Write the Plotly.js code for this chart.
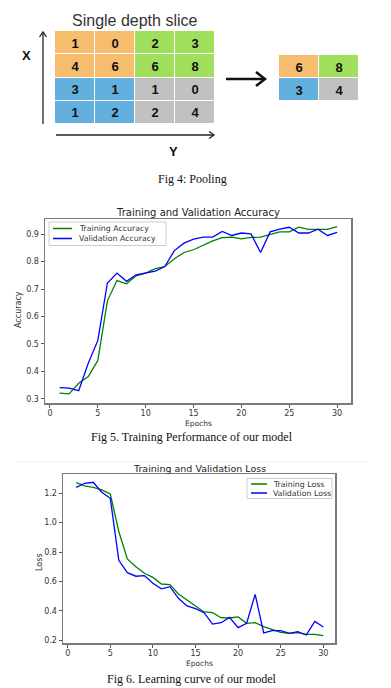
<!DOCTYPE html>
<html>
<head>
<meta charset="utf-8">
<script src="https://cdn.plot.ly/plotly-3.0.1.min.js"></script>
<style>html,body{margin:0;padding:0;background:#fff;}#chart{width:391px;height:688px;}</style>
</head>
<body>
<div id="chart"></div>
<script>
// ---- Data ----
// Pooling diagram: input slice values and their pooling-window group (0..3)
const sliceValues = [[1,0,2,3],[4,6,6,8],[3,1,1,0],[1,2,2,4]];
const sliceGroups = [[0,0,1,1],[0,0,1,1],[2,2,3,3],[2,2,3,3]];
const pooledValues = [[6,8],[3,4]];
const pooledGroups = [[0,1],[2,3]];
const gridCols = ['c1','c2','c3','c4'];
const gridRows = ['r1','r2','r3','r4'];
const poolCols = ['p1','p2'];
const poolRows = ['q1','q2'];

const epochs = [1,2,3,4,5,6,7,8,9,10,11,12,13,14,15,16,17,18,19,20,21,22,23,24,25,26,27,28,29,30];
const trainAcc = [0.321,0.318,0.357,0.381,0.44,0.657,0.731,0.719,0.748,0.758,0.774,0.782,0.81,0.833,0.843,0.859,0.875,0.887,0.889,0.883,0.888,0.889,0.898,0.908,0.908,0.925,0.917,0.917,0.917,0.927];
const valAcc = [0.341,0.339,0.330,0.43,0.513,0.722,0.758,0.728,0.752,0.759,0.765,0.782,0.84,0.867,0.882,0.889,0.889,0.91,0.895,0.904,0.901,0.833,0.908,0.918,0.925,0.904,0.904,0.918,0.895,0.906];
const trainLoss = [1.272,1.25,1.24,1.223,1.195,0.94,0.753,0.70,0.656,0.628,0.583,0.579,0.515,0.474,0.434,0.393,0.388,0.354,0.352,0.359,0.316,0.32,0.293,0.275,0.254,0.248,0.252,0.241,0.241,0.232];
const valLoss = [1.24,1.268,1.275,1.207,1.166,0.744,0.66,0.636,0.64,0.588,0.55,0.565,0.486,0.434,0.415,0.388,0.311,0.32,0.356,0.286,0.316,0.513,0.25,0.266,0.266,0.248,0.259,0.236,0.329,0.291];
const accTicks = [0.3,0.4,0.5,0.6,0.7,0.8,0.9];
const lossTicks = [0.2,0.4,0.6,0.8,1.0,1.2];
const epochTicks = [0,5,10,15,20,25,30];
const accNames = ['Training Accuracy','Validation Accuracy'];
const lossNames = ['Training Loss','Validation Loss'];
const seriesColors = ['green','blue'];

// ---- Helpers (page pixel -> paper) ----
const W = 391, H = 688;
const px = x => x / W;
const py = y => 1 - y / H;

const poolColors = [[0,'#F6BD6E'],[1/3,'#A0DF5C'],[2/3,'#63AFDD'],[1,'#C1C1C1']];
const sans = 'DejaVu Sans';
const tickFont = {family:sans, size:8, color:'#333'};
const serif = {family:'Liberation Serif', size:12, color:'#111'};

const traces = [
  {type:'heatmap', x:gridCols, y:gridRows, z:sliceGroups, text:sliceValues,
   texttemplate:'<b>%{text}</b>', textfont:{family:'Liberation Sans', size:13, color:'#111'},
   colorscale:poolColors, zmin:0, zmax:3, showscale:false, xgap:1, ygap:1,
   hoverinfo:'skip', xaxis:'x', yaxis:'y'},
  {type:'heatmap', x:poolCols, y:poolRows, z:pooledGroups, text:pooledValues,
   texttemplate:'<b>%{text}</b>', textfont:{family:'Liberation Sans', size:13, color:'#111'},
   colorscale:poolColors, zmin:0, zmax:3, showscale:false, xgap:1, ygap:1,
   hoverinfo:'skip', xaxis:'x2', yaxis:'y2'},
  {type:'scatter', mode:'lines', x:epochs, y:trainAcc, name:accNames[0],
   line:{color:seriesColors[0], width:1.3}, xaxis:'x3', yaxis:'y3'},
  {type:'scatter', mode:'lines', x:epochs, y:valAcc, name:accNames[1],
   line:{color:seriesColors[1], width:1.3}, xaxis:'x3', yaxis:'y3'},
  {type:'scatter', mode:'lines', x:epochs, y:trainLoss, name:lossNames[0],
   line:{color:seriesColors[0], width:1.3}, xaxis:'x4', yaxis:'y4'},
  {type:'scatter', mode:'lines', x:epochs, y:valLoss, name:lossNames[1],
   line:{color:seriesColors[1], width:1.3}, xaxis:'x4', yaxis:'y4'}
];

const frameAxis = {showline:true, mirror:true, linecolor:'#7a7a7a', linewidth:1.5,
  showgrid:false, zeroline:false, ticks:'outside', ticklen:3, tickcolor:'#555', tickwidth:1,
  tickfont:tickFont, fixedrange:true};

const ann = (text, x, y, font, extra) => Object.assign({text, x:px(x), y:py(y), xref:'paper', yref:'paper',
  showarrow:false, xanchor:'center', yanchor:'middle', font}, extra || {});

// Legend boxes (drawn as decoration, labels come from the series names)
function legendBox(x0, y0, x1, y1, lineX0, lineX1, rowsY, textX, names) {
  const shapes = [{type:'rect', xref:'paper', yref:'paper', x0:px(x0), y0:py(y1), x1:px(x1), y1:py(y0),
    fillcolor:'rgba(255,255,255,0.9)', line:{color:'#cccccc', width:1}}];
  const anns = [];
  names.forEach((n, i) => {
    shapes.push({type:'line', xref:'paper', yref:'paper', x0:px(lineX0), x1:px(lineX1), y0:py(rowsY[i]), y1:py(rowsY[i]),
      line:{color:seriesColors[i], width:1.5}});
    anns.push(ann(n, textX, rowsY[i], {family:sans, size:7.8, color:'#333'}, {xanchor:'left'}));
  });
  return {shapes, anns};
}
const leg1 = legendBox(49, 222, 166, 245.5, 53, 72, [228.5, 238.5], 77, accNames);
const leg2 = legendBox(247, 478.5, 332, 498.5, 251, 267, [484, 493], 271, lossNames);

const layout = {
  width:W, height:H, margin:{l:0,r:0,t:0,b:0},
  paper_bgcolor:'#fff', plot_bgcolor:'#fff', showlegend:false,
  xaxis:{domain:[px(55),px(215)], visible:false, fixedrange:true},
  yaxis:{domain:[py(124),py(31)], visible:false, autorange:'reversed', fixedrange:true},
  xaxis2:{domain:[px(279),px(359)], visible:false, anchor:'y2'},
  yaxis2:{domain:[py(101),py(55)], visible:false, autorange:'reversed', anchor:'x2'},
  xaxis3:Object.assign({}, frameAxis, {domain:[px(45),px(351)], anchor:'y3',
    range:[-0.52,31.45], tickvals:epochTicks, ticklabelstandoff:-1}),
  yaxis3:Object.assign({}, frameAxis, {domain:[py(403),py(219)], anchor:'x3',
    range:[0.285,0.955], tickvals:accTicks, tickformat:'.1f'}),
  xaxis4:Object.assign({}, frameAxis, {domain:[px(63),px(335)], anchor:'y4',
    range:[-0.55,31.37], tickvals:epochTicks, ticklabelstandoff:-1}),
  yaxis4:Object.assign({}, frameAxis, {domain:[py(643),py(474)], anchor:'x4',
    range:[0.182,1.331], tickvals:lossTicks, tickformat:'.1f'}),
  shapes:[
    // vertical X axis arrow
    {type:'line', xref:'paper', yref:'paper', x0:px(43), y0:py(124), x1:px(43), y1:py(32), line:{color:'#222', width:1.3}},
    {type:'path', xref:'paper', yref:'paper', path:`M ${px(39.5)} ${py(37)} L ${px(43)} ${py(32)} L ${px(46.5)} ${py(37)}`, line:{color:'#222', width:1.3}},
    // horizontal Y axis arrow
    {type:'line', xref:'paper', yref:'paper', x0:px(56), y0:py(135), x1:px(214), y1:py(135), line:{color:'#222', width:1.3}},
    {type:'path', xref:'paper', yref:'paper', path:`M ${px(209)} ${py(131.5)} L ${px(214)} ${py(135)} L ${px(209)} ${py(138.5)}`, line:{color:'#222', width:1.3}},
    // pooling arrow
    {type:'line', xref:'paper', yref:'paper', x0:px(226), y0:py(79), x1:px(264), y1:py(79), line:{color:'#111', width:2.5}},
    {type:'path', xref:'paper', yref:'paper', path:`M ${px(256)} ${py(72)} L ${px(265)} ${py(79)} L ${px(256)} ${py(86)}`, line:{color:'#111', width:2.5}},
    // faint separator
    {type:'line', xref:'paper', yref:'paper', x0:px(16), y0:py(462), x1:px(367), y1:py(462), line:{color:'#eeeeee', width:1}}
  ].concat(leg1.shapes, leg2.shapes),
  annotations:[
    ann('Single depth slice', 135, 20, {family:'Liberation Sans', size:16, color:'#333'}),
    ann('<b>X</b>', 27, 55, {family:'Liberation Sans', size:13, color:'#111'}),
    ann('<b>Y</b>', 173, 151, {family:'Liberation Sans', size:13, color:'#111'}),
    ann('Fig 4: Pooling', 192, 179, serif),

    ann('Training and Validation Accuracy', 198, 212, {family:sans, size:10, color:'#222'}),
    ann('Accuracy', 18, 310, {family:sans, size:8, color:'#333'}, {textangle:-90}),
    ann('Epochs', 198.5, 423, {family:sans, size:7.5, color:'#333'}, {borderpad:0}),
    ann('Fig 5. Training Performance of our model', 192, 437, serif, {borderpad:0}),

    ann('Training and Validation Loss', 199, 468, {family:sans, size:9.5, color:'#222'}),
    ann('Loss', 39, 562, {family:sans, size:8, color:'#333'}, {textangle:-90}),
    ann('Epochs', 199, 663, {family:sans, size:7.5, color:'#333'}, {borderpad:0}),
    ann('Fig 6. Learning curve of our model', 192, 678.5, serif, {borderpad:0})
  ].concat(leg1.anns, leg2.anns)
};

Plotly.newPlot('chart', traces, layout, {staticPlot:true, displayModeBar:false});
</script>
</body>
</html>
